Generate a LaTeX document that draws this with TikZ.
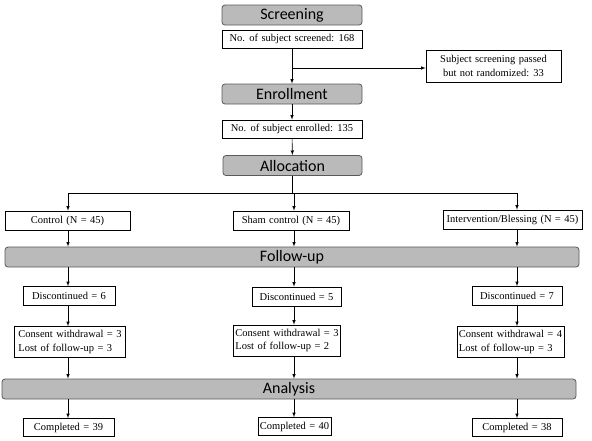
\documentclass[tikz,border=0pt]{standalone}
\usepackage{fontspec}
\setmainfont{Liberation Serif}
\newfontfamily\headfont{Carlito}
\usetikzlibrary{arrows}
\newcommand{\boxfont}{\fontsize{10.5}{13.5}\selectfont\spaceskip 3.4pt plus 1pt\relax}
\tikzstyle{header}=[rectangle,rounded corners=3pt,draw=black!65,fill=black!27,line width=0.8pt,inner sep=0pt,font=\headfont\fontsize{16}{16}\selectfont]
\tikzstyle{info}=[rectangle,draw,line width=0.6pt,inner xsep=2pt,inner ysep=0pt,font=\boxfont]
\tikzstyle{flow}=[line width=0.6pt,-latex]

\begin{document}
\begin{tikzpicture}[x=1pt,y=-1pt]

    \useasboundingbox (0,0) rectangle (592,440);

    % stage bars
    \foreach \pos/\name/\txt/\w in {{(292,15)/screen/Screening/140}, {(292,94)/enroll/Enrollment/140}, {(292.5,165.5)/alloc/Allocation/139}, {(292,257)/follow/Follow-up/574}, {(289,389)/analysis/Analysis/574}}
        \node[header, minimum width=\w pt, minimum height=20pt] (\name) at \pos {\txt};

    % counts at the top
    \node[info, minimum width=140pt, minimum height=18pt] (nscreen) at (292,39) {No. of subject screened: 168};
    \node[info, minimum width=135pt, minimum height=32pt, align=center] (notrand) at (493.5,66) {Subject screening passed\\but not randomized: 33};
    \node[info, minimum width=140pt, minimum height=18pt] (nenroll) at (292,129) {No. of subject enrolled: 135};

    % the three arms
    \foreach \pos/\name/\txt/\w in {{(67.5,220.5)/ctrl/Control (N = 45)/125}, {(291,220.5)/sham/Sham control (N = 45)/116}, {(512.5,219.5)/interv/{Intervention/Blessing (N = 45)}/139}}
        \node[info, minimum width=\w pt, minimum height=19pt] (\name) at \pos {\txt};

    \foreach \pos/\name/\txt/\w in {{(69,296)/disc1/Discontinued = 6/92}, {(296.5,296.5)/disc2/Discontinued = 5/89}, {(517,296)/disc3/Discontinued = 7/90}}
        \node[info, minimum width=\w pt, minimum height=19pt] (\name) at \pos {\txt};

    \foreach \pos/\name/\txta/\txtb/\w in {{(70,342)/cons1/3/3/111}, {(287,340.5)/cons2/3/2/100}, {(510.5,342)/cons3/4/3/103}}
        \node[info, minimum width=\w pt, minimum height=31pt, align=left] (\name) at \pos {Consent withdrawal = \txta\\Lost of follow-up = \txtb};

    \foreach \pos/\name/\txt/\w in {{(68.5,427.5)/done1/Completed = 39/91}, {(294.5,426.5)/done2/Completed = 40/73}, {(517,427.5)/done3/Completed = 38/90}}
        \node[info, minimum width=\w pt, minimum height=18pt] (\name) at \pos {\txt};

    % connectors
    \coordinate (split) at (292,68);
    \coordinate (fork) at (292,193);
    \coordinate (c1) at (68,193);
    \coordinate (c2) at (294,193);
    \coordinate (c3) at (517,193);

    \draw[flow] (nscreen) -- (enroll);
    \draw[flow] (split) -- (split -| notrand.west);
    \draw[flow] (enroll) -- (nenroll);
    \draw[flow] (nenroll) -- (alloc);
    \draw[line width=0.6pt] (alloc.south -| fork) -- (fork);
    \draw[line width=0.6pt] (c1) -- (c3);

    \foreach \c/\arm/\disc/\cons/\done in {c1/ctrl/disc1/cons1/done1, c2/sham/disc2/cons2/done2, c3/interv/disc3/cons3/done3}
    {
        \draw[flow] (\c) -- (\arm.north -| \c);
        \draw[flow] (\arm.south -| \c) -- (follow.north -| \c);
        \draw[flow] (follow.south -| \c) -- (\disc.north -| \c);
        \draw[flow] (\disc.south -| \c) -- (\cons.north -| \c);
        \draw[flow] (\cons.south -| \c) -- (analysis.north -| \c);
        \draw[flow] (analysis.south -| \c) -- (\done.north -| \c);
    }

\end{tikzpicture}
\end{document}
